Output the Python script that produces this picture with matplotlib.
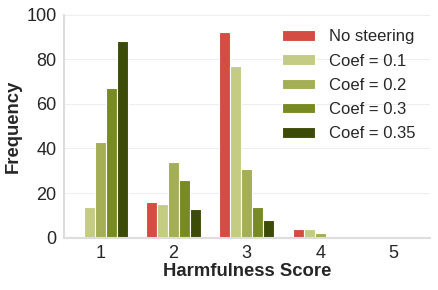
import numpy as np
import matplotlib
matplotlib.use('Agg')
import matplotlib.pyplot as plt
import seaborn as sns

scores = [1, 2, 3, 4, 5]
labels = ['No steering', 'Coef = 0.1', 'Coef = 0.2', 'Coef = 0.3', 'Coef = 0.35']
no_steering = [0, 16, 92, 4, 0]
coef_01 = [14, 15, 77, 4, 0]
coef_02 = [43, 34, 31, 2, 0]
coef_03 = [67, 26, 14, 0, 0]
coef_035 = [88, 13, 8, 0, 0]
series = [no_steering, coef_01, coef_02, coef_03, coef_035]
colors = ['#d44c42', '#c3cc82', '#a3ae55', '#788b23', '#3c4b08']

sns.set_style('whitegrid')
plt.rcParams['font.family'] = ['Liberation Sans', 'DejaVu Sans']

fig, ax = plt.subplots(figsize=(4.38, 2.9), dpi=100)
x = np.array(scores)
w = 0.15
for i, (vals, lab, c) in enumerate(zip(series, labels, colors)):
    ax.bar(x + (i - 2) * w, vals, width=w, color=c, edgecolor='white', linewidth=0.8, label=lab)

ax.set_xlim(0.5, 5.5)
ax.set_ylim(0, 100)
ax.set_xticks(scores)
ax.set_yticks([0, 20, 40, 60, 80, 100])
ax.tick_params(axis='both', labelsize=13, length=0, pad=5, labelcolor='#262626')
ax.xaxis.grid(False)
ax.yaxis.grid(True, color='#eeeeee', linewidth=0.8)
ax.set_axisbelow(True)
for s in ['top', 'right']:
    ax.spines[s].set_visible(False)
for s in ['left', 'bottom']:
    ax.spines[s].set_color('#dddddd')
    ax.spines[s].set_linewidth(1.5)

ax.set_xlabel('Harmfulness Score', fontsize=13.3, fontweight='bold', color='#262626', labelpad=1)
ax.set_ylabel('Frequency', fontsize=13.3, fontweight='bold', color='#262626', labelpad=3)
leg = ax.legend(loc='upper right', frameon=False, fontsize=12, handlelength=2.0,
                handleheight=0.6, handletextpad=0.8, labelspacing=0.55,
                borderaxespad=0.5, labelcolor='#262626')

plt.subplots_adjust(left=0.145, right=0.982, top=0.95, bottom=0.18)
plt.savefig('out.png', dpi=100)
